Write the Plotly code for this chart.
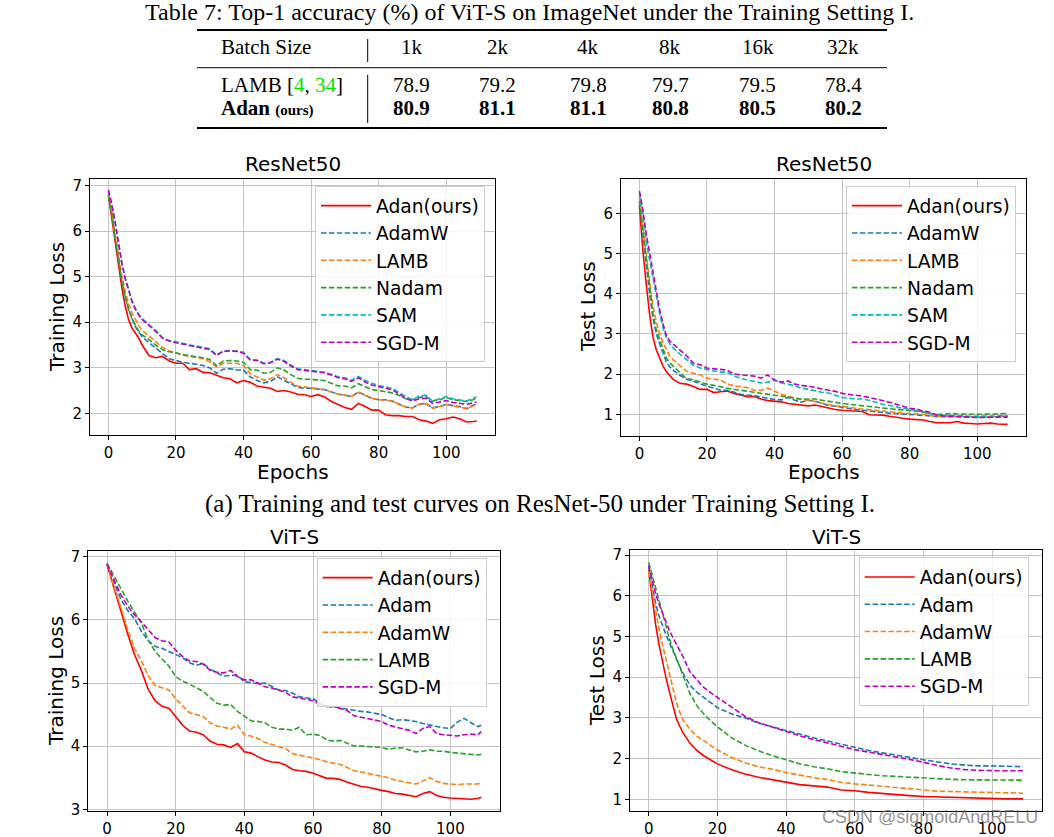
import plotly.graph_objects as go

W, H = 1054, 837

# ---------------- data ----------------
batch_sizes = ["1k", "2k", "4k", "8k", "16k", "32k"]
lamb_acc = ["78.9", "79.2", "79.8", "79.7", "79.5", "78.4"]
adan_acc = ["80.9", "81.1", "81.1", "80.8", "80.5", "80.2"]

# ResNet50 (both panels share epoch grid)
r50_epochs = [0, 1, 2, 3, 4, 5, 6, 7, 8, 9, 10, 12, 14, 16, 18, 20, 22, 24, 26, 28, 30, 32, 34, 36, 38, 40,
              42, 44, 46, 48, 50, 52, 54, 56, 58, 60, 62, 64, 66, 68, 70, 72, 74, 76, 78, 80, 82, 84, 86, 88,
              90, 92, 94, 96, 98, 100, 102, 104, 106, 108, 109]

r50_train_adan = [6.8, 6.3, 5.75, 5.2, 4.75, 4.35, 4.05, 3.87, 3.77, 3.65, 3.5, 3.27, 3.22, 3.25, 3.15, 3.1, 3.1,
                  2.96, 2.98, 2.9, 2.89, 2.83, 2.78, 2.76, 2.67, 2.72, 2.68, 2.6, 2.57, 2.55, 2.48, 2.5, 2.47,
                  2.42, 2.41, 2.37, 2.41, 2.36, 2.26, 2.2, 2.13, 2.09, 2.22, 2.15, 2.07, 2.07, 1.97, 1.95, 1.95,
                  1.93, 1.93, 1.86, 1.83, 1.78, 1.86, 1.88, 1.92, 1.88, 1.81, 1.82, 1.83]
r50_train_adamw = [6.8, 6.4, 5.85, 5.35, 4.9, 4.55, 4.28, 4.08, 3.9, 3.78, 3.68, 3.55, 3.43, 3.3, 3.2, 3.16, 3.12,
                   3.1, 3.07, 3.05, 3.0, 2.88, 2.97, 2.98, 2.95, 2.95, 2.8, 2.72, 2.67, 2.7, 2.8, 2.73, 2.65,
                   2.57, 2.55, 2.55, 2.53, 2.52, 2.47, 2.42, 2.4, 2.37, 2.47, 2.4, 2.33, 2.3, 2.3, 2.27, 2.2,
                   2.14, 2.12, 2.2, 2.22, 2.12, 2.15, 2.2, 2.17, 2.15, 2.1, 2.18, 2.2]
r50_train_lamb = [6.8, 6.45, 5.95, 5.45, 5.02, 4.68, 4.4, 4.2, 4.05, 3.92, 3.82, 3.7, 3.58, 3.45, 3.37, 3.32, 3.28,
                  3.25, 3.23, 3.2, 3.13, 3.02, 3.1, 3.1, 3.1, 3.05, 2.87, 2.8, 2.73, 2.76, 2.85, 2.78, 2.68,
                  2.6, 2.58, 2.57, 2.54, 2.52, 2.47, 2.42, 2.4, 2.37, 2.46, 2.39, 2.33, 2.3, 2.29, 2.27, 2.2,
                  2.14, 2.12, 2.2, 2.21, 2.11, 2.15, 2.19, 2.16, 2.14, 2.11, 2.16, 2.18]
r50_train_nadam = [6.75, 6.35, 5.85, 5.35, 4.9, 4.55, 4.27, 4.07, 3.92, 3.8, 3.72, 3.62, 3.5, 3.4, 3.35, 3.33, 3.29,
                   3.27, 3.25, 3.22, 3.18, 3.05, 3.15, 3.16, 3.15, 3.12, 2.96, 2.95, 2.88, 2.9, 3.0, 2.95, 2.85,
                   2.77, 2.75, 2.75, 2.73, 2.72, 2.66, 2.6, 2.6, 2.56, 2.65, 2.58, 2.52, 2.5, 2.48, 2.45, 2.4,
                   2.32, 2.3, 2.35, 2.37, 2.27, 2.3, 2.35, 2.3, 2.28, 2.26, 2.3, 2.33]
r50_train_sam = [6.9, 6.6, 6.2, 5.72, 5.3, 4.97, 4.7, 4.47, 4.3, 4.17, 4.08, 3.95, 3.82, 3.66, 3.6, 3.57, 3.53,
                 3.5, 3.48, 3.45, 3.42, 3.28, 3.37, 3.38, 3.37, 3.34, 3.18, 3.17, 3.1, 3.12, 3.2, 3.16, 3.06,
                 2.98, 2.96, 2.95, 2.93, 2.9, 2.86, 2.8, 2.78, 2.73, 2.81, 2.72, 2.66, 2.61, 2.58, 2.55, 2.46,
                 2.37, 2.3, 2.38, 2.4, 2.27, 2.32, 2.37, 2.32, 2.3, 2.27, 2.33, 2.36]
r50_train_sgdm = [6.9, 6.58, 6.18, 5.7, 5.28, 4.95, 4.68, 4.45, 4.28, 4.15, 4.06, 3.94, 3.8, 3.65, 3.59, 3.55, 3.52,
                  3.5, 3.47, 3.44, 3.4, 3.27, 3.36, 3.37, 3.36, 3.32, 3.17, 3.16, 3.09, 3.11, 3.19, 3.14, 3.04,
                  2.96, 2.94, 2.93, 2.91, 2.89, 2.84, 2.78, 2.76, 2.7, 2.78, 2.69, 2.62, 2.58, 2.55, 2.52, 2.42,
                  2.33, 2.27, 2.32, 2.33, 2.22, 2.25, 2.28, 2.24, 2.22, 2.2, 2.23, 2.25]

r50_test_adan = [6.2, 5.1, 4.26, 3.5, 2.93, 2.6, 2.4, 2.2, 2.06, 1.95, 1.87, 1.77, 1.75, 1.69, 1.62, 1.62, 1.54,
                 1.56, 1.58, 1.52, 1.48, 1.44, 1.44, 1.38, 1.34, 1.33, 1.31, 1.27, 1.25, 1.23, 1.21, 1.23, 1.19,
                 1.15, 1.12, 1.1, 1.09, 1.09, 1.07, 0.99, 0.98, 0.98, 0.95, 0.92, 0.9, 0.88, 0.87, 0.86, 0.82,
                 0.79, 0.79, 0.79, 0.82, 0.78, 0.77, 0.76, 0.77, 0.78, 0.76, 0.75, 0.75]
r50_test_adamw = [6.3, 5.5, 4.7, 4.0, 3.4, 3.0, 2.75, 2.5, 2.3, 2.18, 2.1, 1.97, 1.87, 1.82, 1.75, 1.7, 1.65,
                  1.6, 1.6, 1.55, 1.5, 1.48, 1.47, 1.43, 1.4, 1.37, 1.36, 1.42, 1.35, 1.3, 1.35, 1.33, 1.27,
                  1.22, 1.2, 1.17, 1.15, 1.12, 1.1, 1.08, 1.07, 1.05, 1.03, 1.02, 1.01, 1.0, 0.99, 0.98, 0.96,
                  0.94, 0.94, 0.95, 0.95, 0.95, 0.94, 0.93, 0.93, 0.93, 0.94, 0.95, 0.95]
r50_test_lamb = [6.4, 5.75, 5.0, 4.3, 3.7, 3.3, 3.0, 2.78, 2.6, 2.45, 2.35, 2.2, 2.07, 2.02, 1.98, 1.9, 1.87,
                 1.85, 1.76, 1.7, 1.69, 1.66, 1.6, 1.6, 1.65, 1.57, 1.5, 1.45, 1.4, 1.37, 1.35, 1.32, 1.28,
                 1.24, 1.21, 1.2, 1.17, 1.15, 1.13, 1.12, 1.1, 1.08, 1.06, 1.05, 1.03, 1.02, 1.01, 1.0, 0.97,
                 0.95, 0.95, 0.95, 0.95, 0.95, 0.94, 0.93, 0.93, 0.93, 0.94, 0.95, 0.95]
r50_test_nadam = [6.3, 5.6, 4.8, 4.1, 3.5, 3.1, 2.85, 2.6, 2.4, 2.28, 2.2, 2.02, 1.88, 1.86, 1.8, 1.75, 1.72,
                  1.68, 1.65, 1.62, 1.6, 1.58, 1.55, 1.52, 1.5, 1.47, 1.45, 1.43, 1.4, 1.38, 1.38, 1.38, 1.35,
                  1.32, 1.29, 1.27, 1.25, 1.23, 1.22, 1.2, 1.18, 1.16, 1.14, 1.12, 1.11, 1.1, 1.08, 1.05, 1.02,
                  1.0, 1.0, 1.02, 1.01, 1.0, 1.0, 1.0, 1.0, 1.0, 1.01, 1.02, 1.02]
r50_test_sam = [6.5, 6.0, 5.3, 4.85, 4.4, 3.9, 3.5, 3.15, 2.9, 2.75, 2.65, 2.5, 2.35, 2.22, 2.15, 2.12, 2.08,
                2.05, 2.05, 1.95, 1.9, 1.85, 1.82, 1.78, 1.8, 1.85, 1.78, 1.75, 1.7, 1.65, 1.62, 1.58, 1.55,
                1.53, 1.48, 1.42, 1.4, 1.38, 1.38, 1.35, 1.3, 1.25, 1.22, 1.18, 1.15, 1.12, 1.1, 1.06, 1.02,
                0.98, 0.97, 0.97, 0.96, 0.96, 0.95, 0.95, 0.95, 0.95, 0.96, 0.97, 0.97]
r50_test_sgdm = [6.55, 6.1, 5.5, 5.0, 4.5, 4.0, 3.6, 3.25, 2.95, 2.82, 2.75, 2.6, 2.45, 2.27, 2.23, 2.15, 2.13,
                 2.12, 2.1, 2.0, 1.98, 1.97, 1.95, 1.9, 1.98, 1.85, 1.8, 1.83, 1.75, 1.72, 1.7, 1.67, 1.63,
                 1.6, 1.57, 1.52, 1.5, 1.48, 1.45, 1.42, 1.38, 1.35, 1.3, 1.25, 1.2, 1.15, 1.13, 1.08, 1.05,
                 0.98, 0.96, 0.95, 0.94, 0.93, 0.93, 0.92, 0.92, 0.93, 0.93, 0.93, 0.93]

# ViT-S training loss
vit_train_epochs = [0, 2, 4, 6, 8, 10, 12, 14, 16, 18, 20, 22, 24, 26, 28, 30, 32, 34, 36, 38, 40, 42, 44, 46, 48,
                    50, 52, 54, 56, 58, 60, 62, 64, 66, 68, 70, 72, 74, 76, 78, 80, 82, 84, 86, 88, 90, 92, 94,
                    96, 98, 100, 102, 104, 106, 108, 109]
vit_train_adan = [6.88, 6.5, 6.12, 5.78, 5.45, 5.2, 4.9, 4.72, 4.63, 4.6, 4.47, 4.33, 4.24, 4.22, 4.18, 4.08, 4.03,
                  4.02, 3.98, 4.04, 3.91, 3.89, 3.83, 3.78, 3.75, 3.74, 3.7, 3.63, 3.61, 3.6, 3.57, 3.53, 3.49,
                  3.49, 3.47, 3.43, 3.39, 3.36, 3.35, 3.32, 3.3, 3.28, 3.25, 3.24, 3.22, 3.2, 3.25, 3.28, 3.22,
                  3.19, 3.18, 3.17, 3.17, 3.16, 3.17, 3.19]
vit_train_adam = [6.88, 6.6, 6.33, 6.15, 6.02, 5.82, 5.67, 5.58, 5.55, 5.5, 5.45, 5.4, 5.32, 5.28, 5.31, 5.22, 5.16,
                  5.11, 5.12, 5.12, 5.02, 5.0, 4.99, 5.0, 4.95, 4.89, 4.88, 4.84, 4.78, 4.77, 4.75, 4.68, 4.63,
                  4.62, 4.6, 4.58, 4.57, 4.55, 4.54, 4.52, 4.5, 4.45, 4.41, 4.42, 4.41, 4.39, 4.36, 4.33, 4.31,
                  4.29, 4.28, 4.38, 4.44, 4.37, 4.31, 4.33]
vit_train_adamw = [6.88, 6.55, 6.2, 5.85, 5.55, 5.35, 5.12, 4.96, 4.92, 4.89, 4.75, 4.64, 4.53, 4.5, 4.47, 4.37,
                   4.32, 4.3, 4.27, 4.33, 4.18, 4.16, 4.12, 4.06, 4.03, 4.0, 3.96, 3.88, 3.86, 3.83, 3.81, 3.79,
                   3.75, 3.73, 3.71, 3.66, 3.61, 3.59, 3.57, 3.54, 3.53, 3.5, 3.46, 3.44, 3.42, 3.4, 3.45, 3.5,
                   3.44, 3.41, 3.4, 3.39, 3.4, 3.4, 3.4, 3.42]
vit_train_lamb = [6.9, 6.7, 6.48, 6.3, 6.12, 5.95, 5.68, 5.5, 5.38, 5.27, 5.1, 5.03, 4.98, 4.93, 4.87, 4.77, 4.68,
                  4.65, 4.66, 4.55, 4.47, 4.4, 4.39, 4.37, 4.3, 4.27, 4.27, 4.25, 4.3, 4.18, 4.19, 4.17, 4.1,
                  4.08, 4.09, 4.05, 4.0, 4.0, 3.99, 3.99, 3.98, 3.95, 3.97, 3.97, 3.94, 3.91, 3.92, 3.94, 3.92,
                  3.92, 3.9, 3.89, 3.88, 3.86, 3.86, 3.87]
vit_train_sgdm = [6.88, 6.65, 6.4, 6.22, 6.08, 5.97, 5.85, 5.72, 5.67, 5.65, 5.52, 5.42, 5.35, 5.34, 5.3, 5.2,
                  5.17, 5.16, 5.2, 5.1, 5.05, 5.05, 5.0, 4.94, 4.92, 4.89, 4.85, 4.78, 4.76, 4.75, 4.72, 4.66,
                  4.63, 4.63, 4.6, 4.56, 4.48, 4.46, 4.44, 4.41, 4.39, 4.33, 4.3, 4.28, 4.25, 4.2, 4.28, 4.31,
                  4.2, 4.18, 4.17, 4.16, 4.18, 4.19, 4.18, 4.23]

# ViT-S test loss
vit_test_epochs = [0, 1, 2, 3, 4, 5, 6, 7, 8, 9, 10, 12, 14, 16, 18, 20, 24, 28, 32, 36, 40, 44, 48, 52, 56, 60,
                   64, 68, 72, 76, 80, 84, 88, 92, 96, 100, 104, 109]
vit_test_adan = [6.63, 5.9, 5.3, 4.8, 4.35, 4.0, 3.65, 3.3, 3.0, 2.8, 2.63, 2.38, 2.2, 2.07, 1.97, 1.87, 1.73,
                 1.62, 1.54, 1.48, 1.41, 1.36, 1.33, 1.3, 1.23, 1.21, 1.17, 1.14, 1.11, 1.09, 1.07, 1.06, 1.04,
                 1.03, 1.03, 1.02, 1.01, 1.01]
vit_test_adam = [6.7, 6.25, 5.82, 5.5, 5.25, 5.05, 4.85, 4.65, 4.45, 4.27, 4.1, 3.8, 3.63, 3.5, 3.38, 3.25, 3.1,
                 3.0, 2.87, 2.78, 2.68, 2.6, 2.51, 2.43, 2.35, 2.28, 2.2, 2.14, 2.09, 2.03, 1.97, 1.92, 1.87,
                 1.84, 1.82, 1.82, 1.81, 1.8]
vit_test_adamw = [6.6, 6.1, 5.6, 5.2, 4.8, 4.45, 4.05, 3.7, 3.4, 3.15, 2.95, 2.72, 2.55, 2.44, 2.32, 2.21, 2.03,
                  1.9, 1.8, 1.74, 1.66, 1.59, 1.53, 1.49, 1.42, 1.38, 1.35, 1.31, 1.28, 1.25, 1.22, 1.2, 1.19,
                  1.18, 1.17, 1.16, 1.15, 1.15]
vit_test_lamb = [6.82, 6.5, 6.25, 5.9, 5.6, 5.25, 4.95, 4.7, 4.48, 4.26, 4.0, 3.6, 3.3, 3.1, 2.93, 2.78, 2.52,
                 2.33, 2.19, 2.07, 1.97, 1.87, 1.8, 1.75, 1.68, 1.64, 1.61, 1.58, 1.56, 1.54, 1.52, 1.5, 1.49,
                 1.48, 1.48, 1.47, 1.47, 1.47]
vit_test_sgdm = [6.75, 6.4, 6.05, 5.8, 5.58, 5.35, 5.15, 4.98, 4.82, 4.67, 4.5, 4.13, 3.93, 3.75, 3.62, 3.5, 3.27,
                 3.04, 2.88, 2.77, 2.66, 2.56, 2.47, 2.39, 2.31, 2.22, 2.16, 2.1, 2.05, 1.98, 1.91, 1.83, 1.77,
                 1.73, 1.71, 1.7, 1.7, 1.7]

# ---------------- styling ----------------
RED, BLUE, ORANGE, GREEN, CYAN, MAGENTA = "#ff0000", "#1f77b4", "#ff7f0e", "#2ca02c", "#00bfbf", "#bf00bf"
DASH = "5.5px,2.4px"
SANS = "DejaVu Sans"
SERIF = "Liberation Serif"


def PX(x):
    return x / W


def PY(y):
    return 1 - y / H


fig = go.Figure()

panels = [
    dict(ax="", leg="legend", epochs=r50_epochs, series=[
        ("Adan(ours)", r50_train_adan, RED, "solid"),
        ("AdamW", r50_train_adamw, BLUE, DASH),
        ("LAMB", r50_train_lamb, ORANGE, DASH),
        ("Nadam", r50_train_nadam, GREEN, DASH),
        ("SAM", r50_train_sam, CYAN, DASH),
        ("SGD-M", r50_train_sgdm, MAGENTA, DASH)]),
    dict(ax="2", leg="legend2", epochs=r50_epochs, series=[
        ("Adan(ours)", r50_test_adan, RED, "solid"),
        ("AdamW", r50_test_adamw, BLUE, DASH),
        ("LAMB", r50_test_lamb, ORANGE, DASH),
        ("Nadam", r50_test_nadam, GREEN, DASH),
        ("SAM", r50_test_sam, CYAN, DASH),
        ("SGD-M", r50_test_sgdm, MAGENTA, DASH)]),
    dict(ax="3", leg="legend3", epochs=vit_train_epochs, series=[
        ("Adan(ours)", vit_train_adan, RED, "solid"),
        ("Adam", vit_train_adam, BLUE, DASH),
        ("AdamW", vit_train_adamw, ORANGE, DASH),
        ("LAMB", vit_train_lamb, GREEN, DASH),
        ("SGD-M", vit_train_sgdm, MAGENTA, DASH)]),
    dict(ax="4", leg="legend4", epochs=vit_test_epochs, series=[
        ("Adan(ours)", vit_test_adan, RED, "solid"),
        ("Adam", vit_test_adam, BLUE, DASH),
        ("AdamW", vit_test_adamw, ORANGE, DASH),
        ("LAMB", vit_test_lamb, GREEN, DASH),
        ("SGD-M", vit_test_sgdm, MAGENTA, DASH)]),
]

for p in panels:
    for name, ys, col, dash in p["series"]:
        fig.add_trace(go.Scatter(
            x=p["epochs"], y=ys, mode="lines", name=name,
            line=dict(color=col, width=1.6, dash=dash),
            xaxis="x" + p["ax"], yaxis="y" + p["ax"], legend=p["leg"], showlegend=True))

# plot frames in pixels: left, right, top, bottom
frames = [(90, 495, 178.7, 435), (621, 1026, 179.3, 436), (88.3, 500, 550.7, 811), (630, 1041.7, 550, 810.7)]
yranges = [[1.525, 7.15], [0.46, 6.846], [2.973, 7.095], [0.72, 7.123]]
ytickvals = [[2, 3, 4, 5, 6, 7], [1, 2, 3, 4, 5, 6], [3, 4, 5, 6, 7], [1, 2, 3, 4, 5, 6, 7]]

axis_common = dict(showline=True, mirror=True, linecolor="black", linewidth=1.1,
                   ticks="outside", ticklen=4, tickwidth=1, tickcolor="black",
                   showgrid=True, gridcolor="#c4c4c4", gridwidth=1, zeroline=False, automargin=False,
                   tickfont=dict(family=SANS, size=15, color="black"))

layout = dict(width=W, height=H, autosize=False, margin=dict(l=0, r=0, t=0, b=0, pad=0, autoexpand=False),
              paper_bgcolor="white", plot_bgcolor="white", showlegend=True)

for i, (l, r, t, b) in enumerate(frames):
    suf = "" if i == 0 else str(i + 1)
    layout["xaxis" + suf] = dict(axis_common, domain=[PX(l), PX(r)], range=[-5.45, 114.45],
                                 tickvals=[0, 20, 40, 60, 80, 100], anchor="y" + suf)
    layout["yaxis" + suf] = dict(axis_common, domain=[PY(b), PY(t)], range=yranges[i],
                                 tickvals=ytickvals[i], anchor="x" + suf)

legend_pos = [(315, 186), (846, 186), (316.7, 558), (858.7, 557.3)]
for i, (lx, ly) in enumerate(legend_pos):
    key = "legend" if i == 0 else "legend" + str(i + 1)
    layout[key] = dict(x=PX(lx), y=PY(ly), xanchor="left", yanchor="top",
                       bgcolor="rgba(255,255,255,0.85)", bordercolor="#cccccc", borderwidth=1,
                       font=dict(family=SANS, size=18.7, color="black"), itemwidth=50,
                       tracegroupgap=0)

fig.update_layout(**layout)

ann = []


def text(x, y, s, size, family=SANS, xanchor="center", angle=0, color="black"):
    ann.append(dict(x=PX(x), y=PY(y), xref="paper", yref="paper", text=s, showarrow=False,
                    xanchor=xanchor, yanchor="middle", textangle=angle,
                    font=dict(family=family, size=size, color=color)))


# subplot titles and axis titles
text(292.5, 164, "ResNet50", 20)
text(823.5, 164, "ResNet50", 20)
text(294, 537, "ViT-S", 20)
text(836, 537, "ViT-S", 20)
text(292.5, 472, "Epochs", 20)
text(823.5, 472, "Epochs", 20)
text(57, 307, "Training Loss", 20, angle=-90)
text(588, 307, "Test Loss", 20, angle=-90)
text(56, 681, "Training Loss", 20, angle=-90)
text(597, 681, "Test Loss", 20, angle=-90)

# table
text(529, 12, "Table 7: Top-1 accuracy (%) of ViT-S on ImageNet under the Training Setting I.", 24, SERIF)
col_x = [411.7, 497.5, 588.3, 670, 757.5, 843.3]
text(219, 47, "Batch Size", 21, SERIF, xanchor="left")
text(219, 85, "LAMB [<span style='color:#00e600'>4</span>, <span style='color:#00e600'>34</span>]", 21, SERIF,
     xanchor="left")
text(219, 108, "<b>Adan</b> <b><span style='font-size:15px'>(ours)</span></b>", 21, SERIF, xanchor="left")
for cx, bs, la, aa in zip(col_x, batch_sizes, lamb_acc, adan_acc):
    text(cx, 47, bs, 21, SERIF)
    text(cx, 85, la, 21, SERIF)
    text(cx, 108, "<b>" + aa + "</b>", 21, SERIF)

# caption
text(540, 504, "(a) Training and test curves on ResNet-50 under Training Setting I.", 25, SERIF)

# watermark
text(930, 817, "CSDN @sigmoidAndRELU", 18, "Liberation Sans", color="rgba(110,110,110,0.75)")

fig.update_layout(annotations=ann)

shapes = []
for y, w in [(30, 1.8), (67.7, 1.0), (128, 1.8)]:
    shapes.append(dict(type="line", xref="paper", yref="paper", x0=PX(197), x1=PX(887), y0=PY(y), y1=PY(y),
                       line=dict(color="black", width=w)))
for y0, y1 in [(39, 62), (75, 123)]:
    shapes.append(dict(type="line", xref="paper", yref="paper", x0=PX(367.7), x1=PX(367.7), y0=PY(y0), y1=PY(y1),
                       line=dict(color="black", width=1)))
fig.update_layout(shapes=shapes)

fig.write_html("out.html", config={"displayModeBar": False},
               post_script="document.body.style.margin='0px';document.body.style.overflow='hidden';")
